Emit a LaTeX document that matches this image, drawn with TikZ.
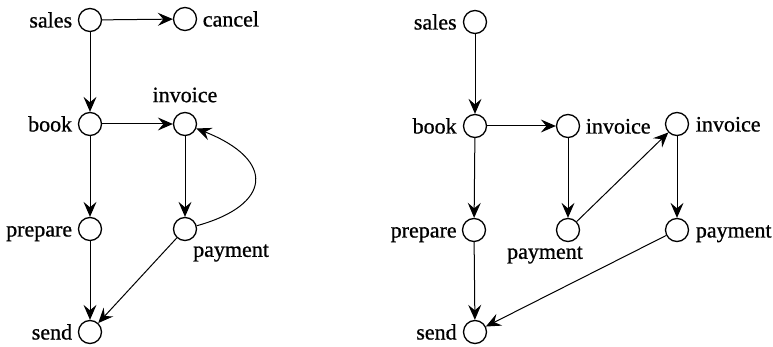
\documentclass[tikz,border=0pt]{standalone}
\usepackage{fontspec}
\setmainfont[FakeBold=0.8]{Liberation Serif}
\usetikzlibrary{arrows.meta}
\begin{document}
\begin{tikzpicture}[x=1pt,y=-1pt,
  place/.style={circle,draw,line width=1.3pt,minimum size=23pt,inner sep=0pt},
  lab/.style={font=\fontsize{22}{24}\selectfont,text height=15pt,text depth=0pt,inner sep=0pt},
  flow/.style={line width=1pt,-{Stealth[length=15pt,width=13pt,inset=5.5pt]}}]
\useasboundingbox (0,0) rectangle (773,347);

% ---- left net ----
\node[place] (s1) at (90,20) {};
\node[place] (c1) at (185,19) {};
\node[place] (b1) at (90,124) {};
\node[place] (i1) at (185,124) {};
\node[place] (p1) at (90,229) {};
\node[place] (y1) at (185,229) {};
\node[place] (d1) at (90,332) {};

\node[lab,anchor=east,xshift=-5.5pt] (s1l) at (s1.west) {sales};
\node[lab,anchor=west,xshift=5.5pt] (c1l) at (c1.east) {cancel};
\node[lab,anchor=east,xshift=-5.5pt] (b1l) at (b1.west) {book};
\node[lab,anchor=south,yshift=9.5pt] (i1l) at (i1.north) {invoice};
\node[lab,anchor=east,xshift=-5.5pt] (p1l) at (p1.west) {prepare};
\node[lab,anchor=south west,xshift=8pt,yshift=-28pt] (y1l) at (y1.center) {payment};
\node[lab,anchor=east,xshift=-5.5pt] (d1l) at (d1.west) {send};

\draw[flow] (s1) -- (c1);
\draw[flow] (s1) -- (b1);
\draw[flow] (b1) -- (i1);
\draw[flow] (b1) -- (p1);
\draw[flow] (i1) -- (y1);
\draw[flow] (p1) -- (d1);
\draw[flow] (y1) -- (d1);
\draw[flow] (y1) .. controls (272,205) and (276,160) .. (i1);

% ---- right net ----
\node[place] (s2) at (475,22) {};
\node[place] (b2) at (475,126) {};
\node[place] (i2) at (568,126) {};
\node[place] (j2) at (677,124) {};
\node[place] (p2) at (474,230) {};
\node[place] (y2) at (568,230) {};
\node[place] (z2) at (677,230) {};
\node[place] (d2) at (475,332) {};

\node[lab,anchor=east,xshift=-6pt] (s2l) at (s2.west) {sales};
\node[lab,anchor=east,xshift=-6pt] (b2l) at (b2.west) {book};
\node[lab,anchor=west,xshift=5.5pt] (i2l) at (i2.east) {invoice};
\node[lab,anchor=west,xshift=6.5pt] (j2l) at (j2.east) {invoice};
\node[lab,anchor=east,xshift=-5pt] (p2l) at (p2.west) {prepare};
\node[lab,anchor=south,xshift=-23pt,yshift=-29pt] (y2l) at (y2.center) {payment};
\node[lab,anchor=west,xshift=6.5pt] (z2l) at (z2.east) {payment};
\node[lab,anchor=east,xshift=-6pt] (d2l) at (d2.west) {send};

\draw[flow] (s2) -- (b2);
\draw[flow] (b2) -- (i2);
\draw[flow] (b2) -- (p2);
\draw[flow] (p2) -- (d2);
\draw[flow] (i2) -- (y2);
\draw[flow] (y2) -- (j2);
\draw[flow] (j2) -- (z2);
\draw[flow] (z2) -- (d2);
\end{tikzpicture}
\end{document}
